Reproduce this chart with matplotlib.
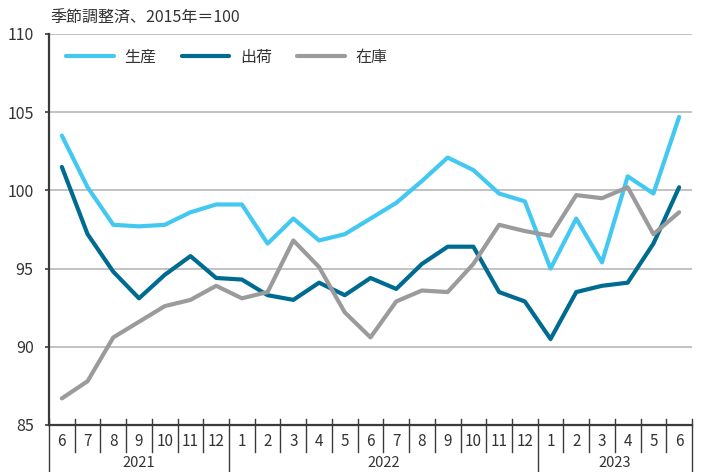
import matplotlib
matplotlib.use("Agg")
import matplotlib.pyplot as plt
import matplotlib.transforms as mtransforms
import numpy as np

plt.rcParams['font.family'] = ['Noto Sans CJK JP', 'DejaVu Sans']

# 2021年6月 〜 2023年6月
months = ["6", "7", "8", "9", "10", "11", "12",
          "1", "2", "3", "4", "5", "6", "7", "8", "9", "10", "11", "12",
          "1", "2", "3", "4", "5", "6"]
years = ["2021", "2022", "2023"]
year_counts = [7, 12, 6]

production = [103.5, 100.2, 97.8, 97.7, 97.8, 98.6, 99.1, 99.1, 96.6, 98.2, 96.8, 97.2,
              98.2, 99.2, 100.6, 102.1, 101.3, 99.8, 99.3, 95.0, 98.2, 95.4, 100.9, 99.8, 104.7]
shipments = [101.5, 97.2, 94.8, 93.1, 94.6, 95.8, 94.4, 94.3, 93.3, 93.0, 94.1, 93.3,
             94.4, 93.7, 95.3, 96.4, 96.4, 93.5, 92.9, 90.5, 93.5, 93.9, 94.1, 96.6, 100.2]
inventory = [86.7, 87.8, 90.6, 91.6, 92.6, 93.0, 93.9, 93.1, 93.5, 96.8, 95.1, 92.2,
             90.6, 92.9, 93.6, 93.5, 95.3, 97.8, 97.4, 97.1, 99.7, 99.5, 100.2, 97.2, 98.6]

LIGHT = "#43C8F1"
DARK = "#006B90"
GREY = "#9B9B9D"
AXIS = "#3A3A3A"
TEXT = "#333333"

fig = plt.figure(figsize=(7.01, 4.72), dpi=100)
ax = fig.add_axes([49 / 701, 1 - 425 / 472, 643 / 701, 391 / 472])

x = np.arange(len(months))
ax.plot(x, production, color=LIGHT, lw=3, label="生産", solid_capstyle='round', zorder=3)
ax.plot(x, shipments, color=DARK, lw=3, label="出荷", solid_capstyle='round', zorder=3)
ax.plot(x, inventory, color=GREY, lw=3, label="在庫", solid_capstyle='round', zorder=3)

ax.set_xlim(-0.5, len(months) - 0.5)
ax.set_ylim(85, 110)
ax.set_yticks([85, 90, 95, 100, 105, 110])
ax.grid(axis='y', color='#B8B8B8', lw=1.2, zorder=0)
ax.tick_params(axis='y', length=3, width=1.2, color=AXIS, labelsize=11.5,
               labelcolor=TEXT, pad=8)

ax.set_xticks(x, months)
ax.tick_params(axis='x', length=0, labelsize=11, labelcolor=TEXT, pad=6)

for s in ['top', 'right']:
    ax.spines[s].set_visible(False)
for s in ['left', 'bottom']:
    ax.spines[s].set_color(AXIS)
    ax.spines[s].set_linewidth(1.6)

# month separators and year separators
trans = mtransforms.blended_transform_factory(ax.transData, ax.transAxes)
edges = np.arange(len(months) + 1) - 0.5
year_edges = np.concatenate([[0], np.cumsum(year_counts)]) - 0.5
for e in edges:
    if e in year_edges:
        ax.plot([e, e], [0.015, -0.13], color=AXIS, lw=1.0, transform=trans, clip_on=False)
    else:
        ax.plot([e, e], [0.015, -0.069], color=AXIS, lw=1.0, transform=trans, clip_on=False)

# year labels, kept just inside the bottom edge
for i, yr in enumerate(years):
    cx = (year_edges[i] + year_edges[i + 1]) / 2
    ax.text(cx, -(470 - 425) / 391, yr, transform=trans, ha='center', va='bottom',
            fontsize=10.5, color=TEXT)

fig.text(50 / 701, 1 - 18 / 472, "季節調整済、2015年＝100", ha='left', va='center',
         fontsize=11.5, color=TEXT)

ax.legend(loc='center left', bbox_to_anchor=(0.026, 0.94), ncol=3, frameon=False,
          fontsize=11.5, handlelength=3.0, handletextpad=0.65, columnspacing=1.6,
          borderaxespad=0, borderpad=0, labelcolor=TEXT)

fig.savefig("out.png", dpi=100, facecolor='white')
